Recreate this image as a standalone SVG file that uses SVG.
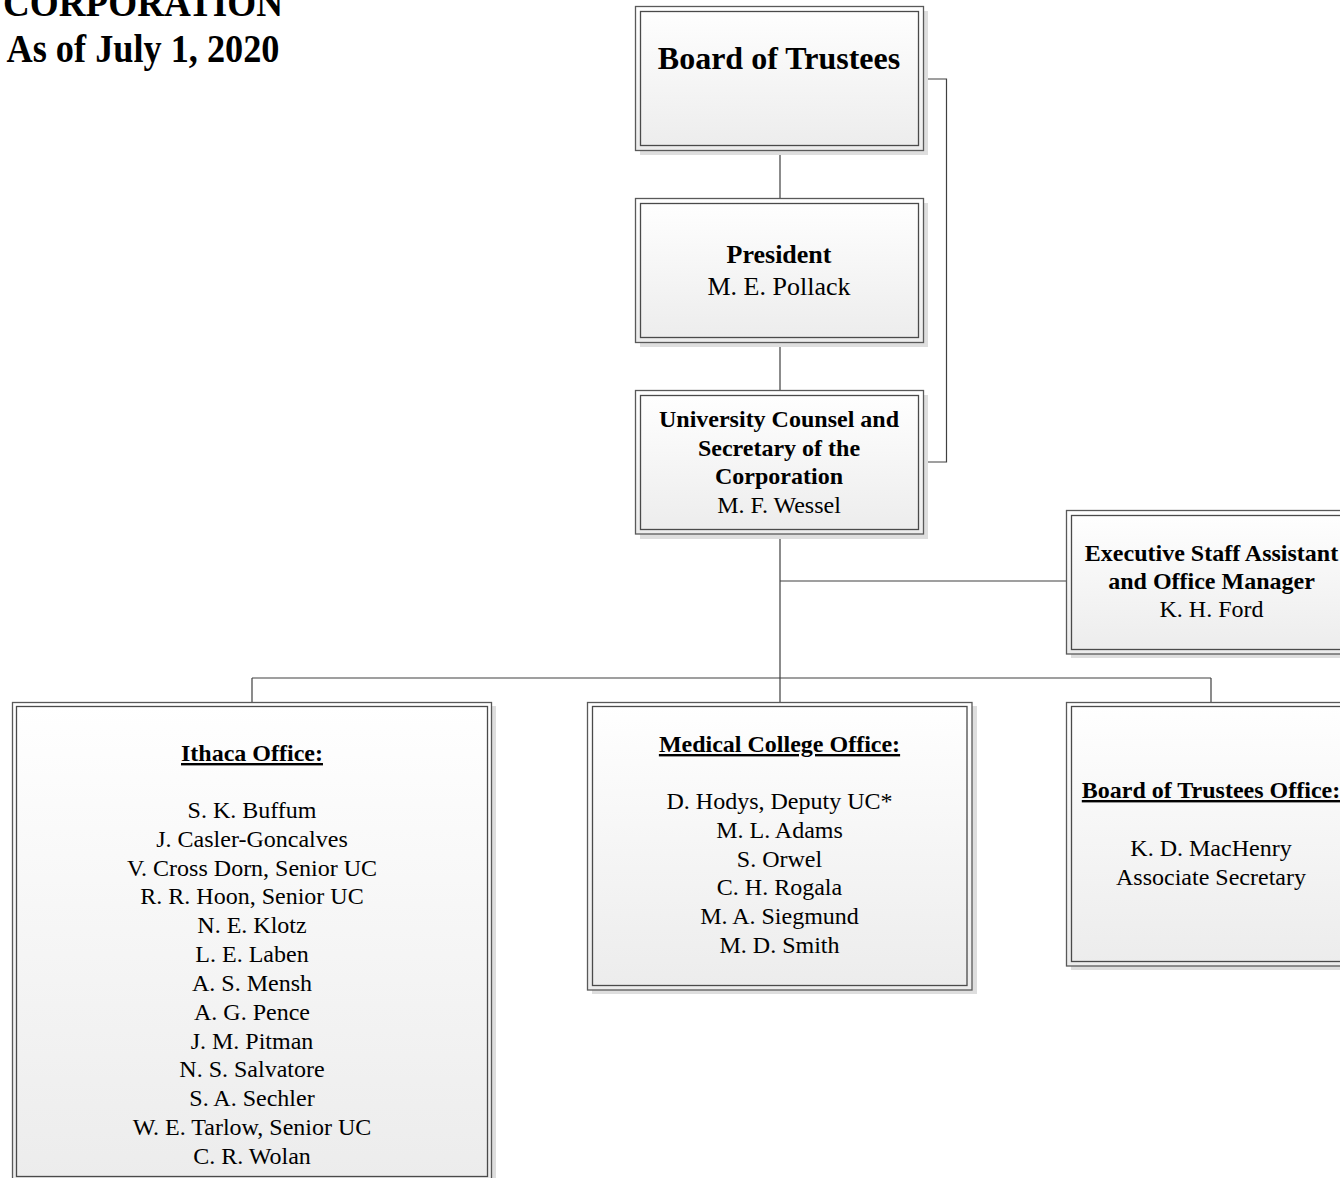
<svg xmlns="http://www.w3.org/2000/svg" width="1340" height="1178" viewBox="0 0 1340 1178" font-family="'Liberation Serif', Tinos, 'Times New Roman', Times, serif">
<defs>
<linearGradient id="g" x1="0" y1="0" x2="0" y2="1">
<stop offset="0" stop-color="#ffffff"/>
<stop offset="1" stop-color="#ececec"/>
</linearGradient>
</defs>
<style>
.sh{fill:#dedede;stroke:none}
.o{fill:url(#g);stroke:#595959;stroke-width:1.3}
.i{fill:none;stroke:#4a4a4a;stroke-width:1.3}
.c{fill:none;stroke:#404040;stroke-width:1.2}
text{fill:#000;text-anchor:middle}
.b{font-weight:bold}
.t{font-size:24px}
.u{text-decoration:underline}
</style>
<rect width="1340" height="1178" fill="#fff"/>
<g id="title">
<text class="b" x="143" y="16" font-size="41" textLength="280" lengthAdjust="spacingAndGlyphs">CORPORATION</text>
<text class="b" x="143" y="62" font-size="41" textLength="273" lengthAdjust="spacingAndGlyphs">As of July 1, 2020</text>
</g>
<g id="connectors">
<path class="c" d="M780 150V199M780 342V391M780 534V702M252 678H1211M252 678V702M1211 678V702M780 581H1067M923 79H946.5V462H923"/>
</g>
<g id="board">
<rect class="sh" x="640" y="11" width="288" height="144"/>
<rect class="o" x="635.5" y="6.5" width="288" height="144"/>
<rect class="i" x="640.5" y="11.5" width="278" height="134"/>
<text class="b" x="779" y="69" font-size="32">Board of Trustees</text>
</g>
<g id="president">
<rect class="sh" x="640" y="203" width="288" height="144"/>
<rect class="o" x="635.5" y="198.5" width="288" height="144"/>
<rect class="i" x="640.5" y="203.5" width="278" height="134"/>
<text x="779" y="263" font-size="26"><tspan class="b">President</tspan><tspan x="779" dy="31.5">M. E. Pollack</tspan></text>
</g>
<g id="counsel">
<rect class="sh" x="640" y="395" width="288" height="144"/>
<rect class="o" x="635.5" y="390.5" width="288" height="143.5"/>
<rect class="i" x="640.5" y="395.5" width="278" height="134"/>
<text class="t" x="779" y="427"><tspan class="b">University Counsel and</tspan><tspan class="b" x="779" dy="28.7">Secretary of the</tspan><tspan class="b" x="779" dy="28.7">Corporation</tspan><tspan x="779" dy="28.7">M. F. Wessel</tspan></text>
</g>
<g id="exec">
<rect class="sh" x="1071" y="514" width="288" height="144"/>
<rect class="o" x="1066.5" y="510.5" width="288" height="143.5"/>
<rect class="i" x="1071.5" y="515.5" width="278" height="134"/>
<text class="t" x="1211.5" y="561"><tspan class="b">Executive Staff Assistant</tspan><tspan class="b" x="1211.5" dy="28">and Office Manager</tspan><tspan x="1211.5" dy="28">K. H. Ford</tspan></text>
</g>
<g id="ithaca">
<rect class="sh" x="16" y="706" width="480" height="480"/>
<rect class="o" x="12.5" y="702.5" width="479" height="479"/>
<rect class="i" x="16.5" y="706.5" width="471" height="470"/>
<text class="t" x="252" y="761"><tspan class="b u">Ithaca Office:</tspan><tspan x="252" y="818">S. K. Buffum</tspan><tspan x="252" dy="28.83">J. Casler-Goncalves</tspan><tspan x="252" dy="28.83">V. Cross Dorn, Senior UC</tspan><tspan x="252" dy="28.83">R. R. Hoon, Senior UC</tspan><tspan x="252" dy="28.83">N. E. Klotz</tspan><tspan x="252" dy="28.83">L. E. Laben</tspan><tspan x="252" dy="28.83">A. S. Mensh</tspan><tspan x="252" dy="28.83">A. G. Pence</tspan><tspan x="252" dy="28.83">J. M. Pitman</tspan><tspan x="252" dy="28.83">N. S. Salvatore</tspan><tspan x="252" dy="28.83">S. A. Sechler</tspan><tspan x="252" dy="28.83">W. E. Tarlow, Senior UC</tspan><tspan x="252" dy="28.83">C. R. Wolan</tspan></text>
</g>
<g id="medical">
<rect class="sh" x="592" y="706" width="385" height="288"/>
<rect class="o" x="587.5" y="702.5" width="384.5" height="287.5"/>
<rect class="i" x="592.5" y="706.5" width="374.5" height="279"/>
<text class="t" x="779.5" y="752"><tspan class="b u">Medical College Office:</tspan><tspan x="779.5" y="809">D. Hodys, Deputy UC*</tspan><tspan x="779.5" dy="28.8">M. L. Adams</tspan><tspan x="779.5" dy="28.8">S. Orwel</tspan><tspan x="779.5" dy="28.8">C. H. Rogala</tspan><tspan x="779.5" dy="28.8">M. A. Siegmund</tspan><tspan x="779.5" dy="28.8">M. D. Smith</tspan></text>
</g>
<g id="bot-office">
<rect class="sh" x="1071" y="706" width="288" height="264"/>
<rect class="o" x="1066.5" y="702.5" width="288" height="263.5"/>
<rect class="i" x="1071.5" y="706.5" width="278" height="255"/>
<text class="t" x="1211" y="798"><tspan class="b u">Board of Trustees Office:</tspan><tspan x="1211" y="856">K. D. MacHenry</tspan><tspan x="1211" dy="28.8">Associate Secretary</tspan></text>
</g>
</svg>
